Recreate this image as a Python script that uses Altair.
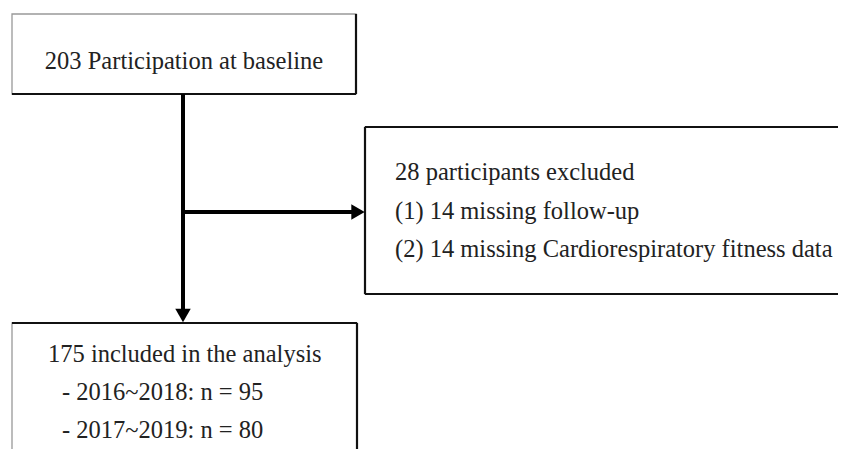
import altair as alt
import pandas as pd

# Boxes (image pixel coords)
box_x1 = [12, 365, 12]
box_x2 = [356, 900, 357]
box_y1 = [14, 127, 323]
box_y2 = [94, 294, 500]

# Dark edges of the boxes
edge_x1 = [356, 12, 365, 365, 365, 12, 357]
edge_x2 = [356, 356, 900, 365, 900, 357, 357]
edge_y1 = [14, 94, 127, 127, 294, 323, 323]
edge_y2 = [94, 94, 127, 294, 294, 323, 500]

# Connector segments
seg_x1 = [183, 183]
seg_x2 = [183, 354]
seg_y1 = [94, 212]
seg_y2 = [310, 212]

# Arrowheads
head_x = [183, 358]
head_y = [315.5, 212]
head_shape = ["triangle-down", "triangle-right"]

# Text lines
txt = [
    "203 Participation at baseline",
    "28 participants excluded",
    "(1) 14 missing follow-up",
    "(2) 14 missing Cardiorespiratory fitness data",
    "175 included in the analysis",
    "- 2016~2018: n = 95",
    "- 2017~2019: n = 80",
]
txt_x = [184, 395, 395, 395, 48, 62, 62]
txt_y = [62, 173, 212, 250, 355, 393, 431]
txt_align = ["center", "left", "left", "left", "left", "left", "left"]

X = alt.Scale(domain=[8, 838])
Y = alt.Scale(domain=[8, 449], reverse=True)
FONT = "Liberation Serif"

boxes = pd.DataFrame({"x1": box_x1, "x2": box_x2, "y1": box_y1, "y2": box_y2})
edges = pd.DataFrame({"x1": edge_x1, "x2": edge_x2, "y1": edge_y1, "y2": edge_y2})
segs = pd.DataFrame({"x1": seg_x1, "x2": seg_x2, "y1": seg_y1, "y2": seg_y2})
heads = pd.DataFrame({"x": head_x, "y": head_y, "s": head_shape})
texts = pd.DataFrame({"t": txt, "x": txt_x, "y": txt_y, "a": txt_align})

rects = alt.Chart(boxes).mark_rect(fill="white", stroke="#999999", strokeWidth=1.3).encode(
    x=alt.X("x1:Q", scale=X, axis=None),
    x2="x2:Q",
    y=alt.Y("y1:Q", scale=Y, axis=None),
    y2="y2:Q",
)

edge_rules = alt.Chart(edges).mark_rule(color="#111111", strokeWidth=2.2).encode(
    x=alt.X("x1:Q", scale=X, axis=None),
    x2="x2:Q",
    y=alt.Y("y1:Q", scale=Y, axis=None),
    y2="y2:Q",
)

rules = alt.Chart(segs).mark_rule(color="black", strokeWidth=4).encode(
    x=alt.X("x1:Q", scale=X, axis=None),
    x2="x2:Q",
    y=alt.Y("y1:Q", scale=Y, axis=None),
    y2="y2:Q",
)

arrows = alt.Chart(heads).mark_point(filled=True, color="black", size=240, opacity=1).encode(
    x=alt.X("x:Q", scale=X, axis=None),
    y=alt.Y("y:Q", scale=Y, axis=None),
    shape=alt.Shape("s:N", scale=None, legend=None),
)

layers = [rects, edge_rules, rules, arrows]
for al in ["center", "left"]:
    layers.append(
        alt.Chart(texts[texts["a"] == al]).mark_text(
            align=al, baseline="middle", font=FONT, fontSize=24.5, color="#222222"
        ).encode(
            x=alt.X("x:Q", scale=X, axis=None),
            y=alt.Y("y:Q", scale=Y, axis=None),
            text="t:N",
        )
    )

chart = alt.layer(*layers).properties(
    width=830, height=441, autosize=alt.AutoSizeParams(type="none"), padding=0,
    background="white",
).configure_view(stroke=None)

chart.save("out.html", embed_options={"renderer": "svg", "actions": False})
